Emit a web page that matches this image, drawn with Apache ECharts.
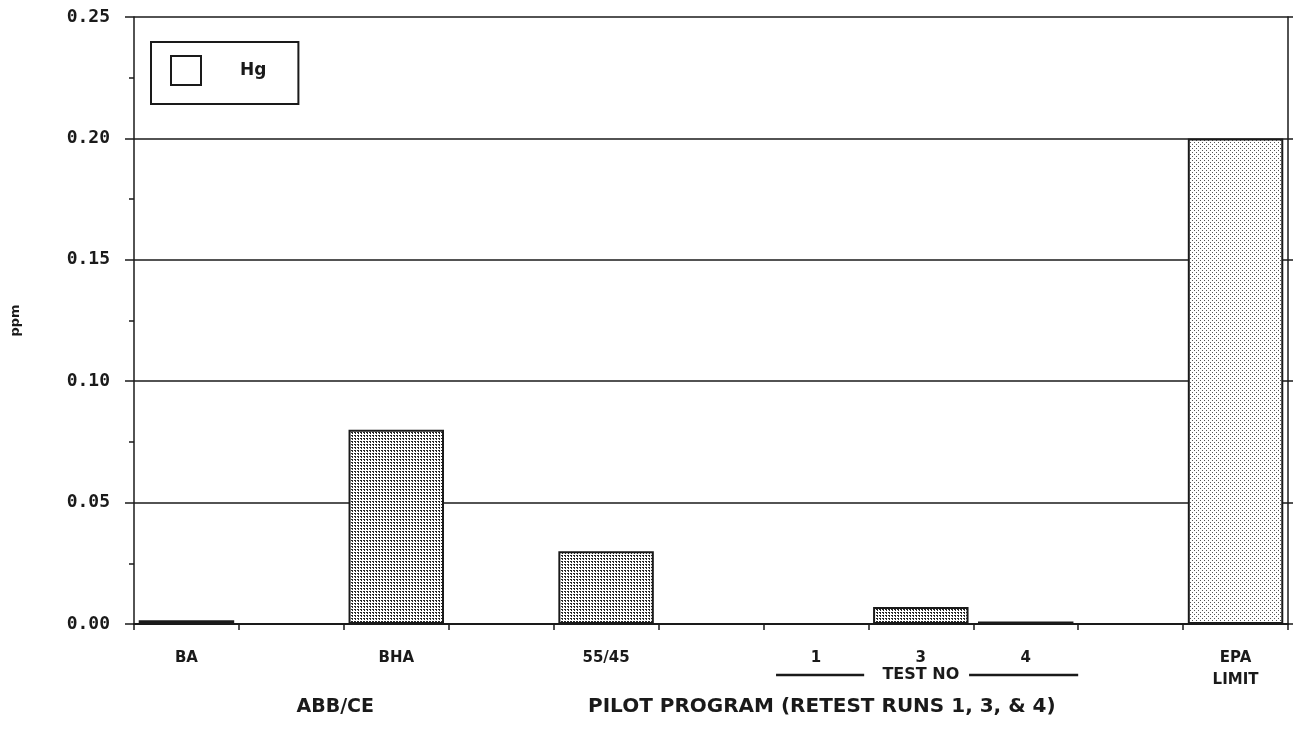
<!DOCTYPE html>
<html>
<head>
<meta charset="utf-8">
<script src="https://cdn.jsdelivr.net/npm/echarts@6/dist/echarts.min.js"></script>
<style>
  html, body { margin: 0; padding: 0; background: #fff; }
  #main { width: 1298px; height: 750px; }
</style>
</head>
<body>
<div id="main"></div>
<script>
// categories along the bottom (empty strings are the spacer slots)
var categories = ['BA', '', 'BHA', '', '55/45', '', '1', '3', '4', '', 'EPA\nLIMIT'];
// Hg concentration, ppm
var hgValues = [0.0015, null, 0.08, null, 0.03, null, 0, 0.007, 0.001, null, 0.20];
var yTicks = [0, 0.05, 0.10, 0.15, 0.20, 0.25];

var FONT = '"DejaVu Sans", "Liberation Sans", sans-serif';
var INK = '#1a1a1a';

// little dot textures like the old print shading
function makePattern(kind) {
  var c = document.createElement('canvas');
  var ctx = c.getContext('2d');
  if (kind === 'dense') {
    c.width = 6; c.height = 6;
    ctx.fillStyle = '#fff';
    ctx.fillRect(0, 0, 6, 6);
    ctx.fillStyle = '#262626';
    [[0,0],[1,1],[3,3],[4,4],[3,0],[4,1],[0,3],[1,4],[1,0],[4,3],[4,0],[1,3]].forEach(function (p) {
      ctx.fillRect(p[0], p[1], 1, 1);
    });
  } else {
    c.width = 4; c.height = 4;
    ctx.fillStyle = '#fff';
    ctx.fillRect(0, 0, 4, 4);
    ctx.fillStyle = '#555';
    ctx.fillRect(0, 0, 1, 1);
    ctx.fillRect(2, 2, 1, 1);
  }
  return { image: c, repeat: 'repeat' };
}

var dense = makePattern('dense');
var light = makePattern('light');

var barData = hgValues.map(function (v, i) {
  var isLimit = categories[i].indexOf('EPA') === 0;
  return {
    value: v,
    itemStyle: { color: isLimit ? light : dense }
  };
});

var myChart = echarts.init(document.getElementById('main'));

var option = {
  animation: false,
  backgroundColor: '#fff',
  textStyle: { fontFamily: FONT },
  grid: { left: 134, right: 10, top: 17, bottom: 126 },
  legend: {
    left: 151,
    top: 42,
    orient: 'horizontal',
    padding: [13, 32, 18, 19],
    borderColor: INK,
    borderWidth: 2,
    borderRadius: 0,
    itemWidth: 30,
    itemHeight: 29,
    icon: 'rect',
    itemStyle: { color: '#fff', borderColor: INK, borderWidth: 2 },
    textStyle: { fontFamily: FONT, fontWeight: 'bold', fontSize: 17, color: INK, padding: [0, 0, 0, 34] },
    data: ['Hg']
  },
  xAxis: {
    type: 'category',
    data: categories,
    boundaryGap: true,
    axisLine: { show: true, lineStyle: { color: INK, width: 2 } },
    axisTick: { show: true, interval: 0, length: 6, lineStyle: { color: INK, width: 1.5 } },
    axisLabel: {
      interval: 0,
      margin: 23,
      color: INK,
      fontFamily: FONT,
      fontWeight: 'bold',
      fontSize: 15,
      lineHeight: 22
    },
    splitLine: { show: false }
  },
  yAxis: [{
    type: 'value',
    min: 0,
    max: 0.25,
    interval: 0.05,
    name: 'ppm',
    nameLocation: 'middle',
    nameRotate: 90,
    nameGap: 112,
    nameTextStyle: { fontFamily: FONT, fontWeight: 'bold', fontSize: 13, color: INK },
    axisLine: { show: true, lineStyle: { color: INK, width: 1.5 } },
    axisTick: { show: true, length: 9, lineStyle: { color: INK, width: 1.5 } },
    minorTick: { show: true, splitNumber: 2, length: 5, lineStyle: { color: INK, width: 1.5 } },
    axisLabel: {
      margin: 24,
      color: INK,
      fontFamily: '"DejaVu Sans Mono", monospace',
      fontWeight: 'bold',
      fontSize: 18,
      formatter: function (v) { return v.toFixed(2); }
    },
    splitLine: { show: true, lineStyle: { color: INK, width: 1.5 } }
  }, {
    type: 'value',
    position: 'right',
    min: 0,
    max: 0.25,
    interval: 0.05,
    axisLine: { show: true, lineStyle: { color: INK, width: 1.5 } },
    axisTick: { show: true, inside: false, length: 5, lineStyle: { color: INK, width: 1.5 } },
    axisLabel: { show: false },
    splitLine: { show: false }
  }],
  series: [{
    name: 'Hg',
    type: 'bar',
    barCategoryGap: '9%',
    itemStyle: { borderColor: INK, borderWidth: 2, color: dense },
    data: barData
  }]
};

myChart.setOption(option);

// annotations under the axis, placed from the category positions
var yBase = myChart.convertToPixel({ yAxisIndex: 0 }, 0);
var x1 = myChart.convertToPixel({ xAxisIndex: 0 }, '1');
var x3 = myChart.convertToPixel({ xAxisIndex: 0 }, '3');
var x4 = myChart.convertToPixel({ xAxisIndex: 0 }, '4');
var xBHA = myChart.convertToPixel({ xAxisIndex: 0 }, 'BHA');
var step = x3 - x1;
var yTest = yBase + 51;

myChart.setOption({
  graphic: [
    {
      type: 'line',
      shape: { x1: x1 - step * 0.38, y1: yTest, x2: x3 - step * 0.54, y2: yTest },
      style: { stroke: INK, lineWidth: 2.5 }
    },
    {
      type: 'text',
      x: x3, y: yTest,
      style: { text: 'TEST NO', fill: INK, font: 'bold 16px ' + FONT, textAlign: 'center', textVerticalAlign: 'middle' }
    },
    {
      type: 'line',
      shape: { x1: x3 + step * 0.46, y1: yTest, x2: x4 + step * 0.5, y2: yTest },
      style: { stroke: INK, lineWidth: 2.5 }
    },
    {
      type: 'text',
      x: xBHA - 61, y: yBase + 83,
      style: { text: 'ABB/CE', fill: INK, font: 'bold 19px ' + FONT, textAlign: 'center', textVerticalAlign: 'middle' }
    },
    {
      type: 'text',
      x: x3 - 99, y: yBase + 83,
      style: { text: 'PILOT PROGRAM (RETEST RUNS 1, 3, & 4)', fill: INK, font: 'bold 20px ' + FONT, textAlign: 'center', textVerticalAlign: 'middle' }
    }
  ]
});
</script>
</body>
</html>
